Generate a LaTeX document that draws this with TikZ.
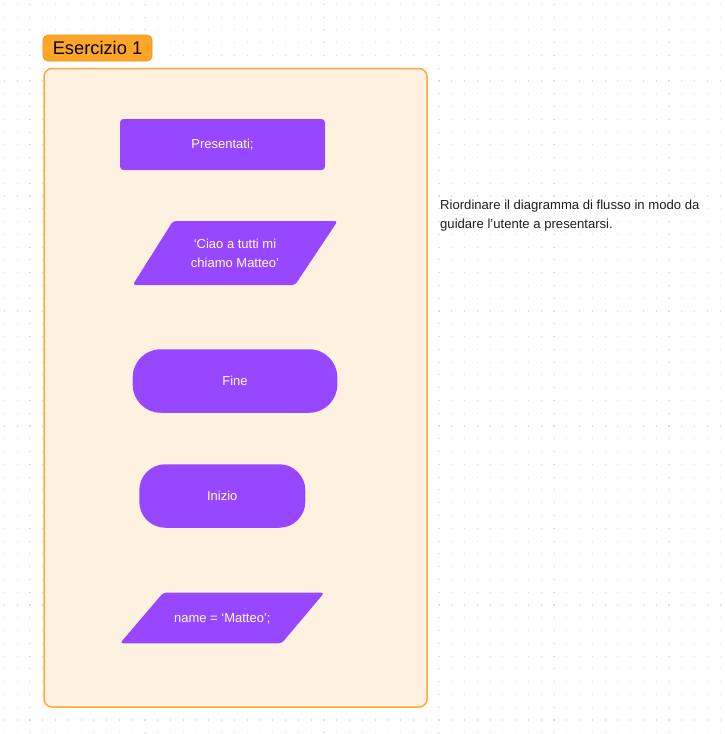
\documentclass[tikz,border=0pt]{standalone}
\usepackage{fontspec}
\setmainfont{Liberation Sans}
\definecolor{purp}{HTML}{9747FF}
\definecolor{framec}{HTML}{FFAA3B}
\definecolor{framefill}{HTML}{FFF1DF}
\definecolor{tagfill}{HTML}{FFA629}
\definecolor{tagborder}{HTML}{E8921E}
\definecolor{dotc}{HTML}{DCDCDC}
\definecolor{ink}{HTML}{1E1E1E}
\tikzset{
  flowtxt/.style={text=white, font=\fontsize{13}{19}\selectfont, align=center},
  procbox/.style={fill=purp, rounded corners=3.5, minimum width=205, minimum height=51, inner sep=0},
  termbox/.style={fill=purp, minimum height=63.5, inner sep=0},
}
\begin{document}
\begin{tikzpicture}[x=1pt,y=-1pt]
\useasboundingbox (0,0) rectangle (725,734);
\fill[white] (0,0) rectangle (725,734);
\foreach \r in {0,...,57} {
  \draw[dotc, line width=1.1, dash pattern=on 1.1 off 11.68] (3.9,4.3+\r*12.78) -- (725,4.3+\r*12.78);
}
% frame
\draw[framec, fill=framefill, line width=1.5, rounded corners=8] (44,68.5) rectangle (427,707);
% tag
\node[fill=tagfill, draw=tagborder, line width=0.8, rounded corners=5, minimum width=109, minimum height=26, inner sep=0, text=black, font=\fontsize{18.3}{20}\selectfont] (title) at (97.5,48) {Esercizio 1};
% Presentati
\node[procbox, flowtxt] (pres) at (222.5,144.5) {Presentati;};
% Parallelogram 1
\fill[purp, rounded corners=3] (173,221) -- (337.7,221) -- (295,285) -- (132.7,285) -- cycle;
\node[flowtxt] (ciao) at (235,253.5) {‘Ciao a tutti mi\\chiamo Matteo’};
% Fine
\node[termbox, flowtxt, rounded corners=28, minimum width=204.6] (fine) at (235,381) {Fine};
% Inizio
\node[termbox, flowtxt, rounded corners=26, minimum width=166] (inizio) at (222.3,496) {Inizio};
% Parallelogram 2
\fill[purp, rounded corners=3] (163.3,592.7) -- (324.3,592.7) -- (281.7,643.3) -- (120,643.3) -- cycle;
\node[flowtxt] (name) at (222.3,618.5) {name = ‘Matteo’;};
% right text
\node[anchor=north west, align=left, text=ink, inner sep=0, font=\fontsize{13.1}{19}\selectfont] (note) at (440,199.5) {Riordinare il diagramma di flusso in modo da\\guidare l’utente a presentarsi.};
\end{tikzpicture}
\end{document}
